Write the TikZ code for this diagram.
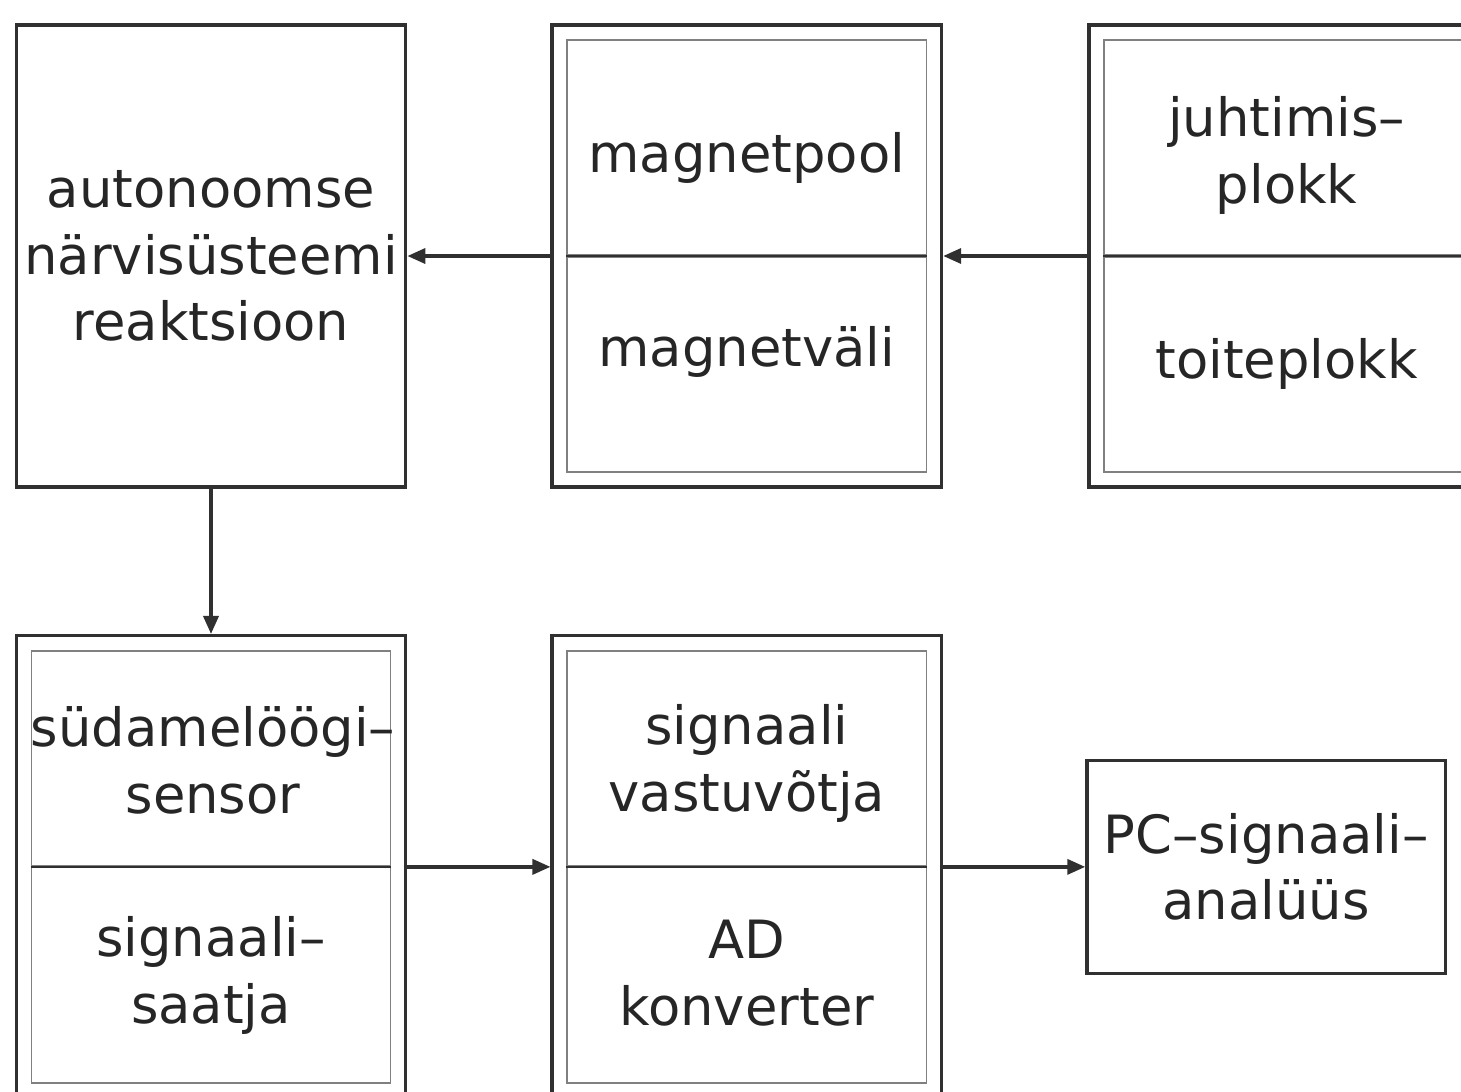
\documentclass[tikz,border=0pt]{standalone}
\usepackage{fontspec}
\setmainfont{DejaVu Sans}
\usepackage{tikz}
\usetikzlibrary{positioning}
\usetikzlibrary{arrows.meta}
\definecolor{linegray}{HTML}{303030}
\definecolor{framegray}{HTML}{808080}

\begin{document}
\begin{tikzpicture}[
		x=0.01cm, y=-0.01cm,
		font=\fontsize{15pt}{19pt}\selectfont,
		box/.style={rectangle, draw=linegray, line width=1pt, minimum width=3.89cm, minimum height=4.62cm, inner sep=0pt, text=black!85, align=center},  % outer frame
		half/.style={rectangle, draw=framegray, line width=0.45pt, minimum width=3.59cm, minimum height=2.15cm, inner sep=0pt},  % inner frame, one half
		caption/.style={inner sep=0pt, text=black!85, align=center},
		divider/.style={draw=linegray, line width=0.6pt},
		arrow/.style={-{Triangle[length=1.8mm, width=1.5mm]}, draw=linegray, line width=1pt}
		]
		\useasboundingbox (0,0) rectangle (1461,1091);
		\clip (0,0) rectangle (1461,1091);
		% top row
		\node[box] (reaction) at (211,256) {autonoomse\\närvisüsteemi\\reaktsioon};
		\node[box, right=1.43cm of reaction] (magnet) {};
		\node[half, anchor=south] (magnetpool) at (magnet.center) {};
		\node[half, anchor=north] (magnetfield) at (magnet.center) {};
		\node[box, minimum width=3.95cm, right=1.44cm of magnet] (control) {};
		\node[half, minimum width=3.65cm, anchor=south] (controlunit) at (control.center) {};
		\node[half, minimum width=3.65cm, anchor=north] (power) at (control.center) {};
		% bottom row
		\node[box, below=1.45cm of reaction] (sensor) {};
		\node[half, anchor=south] (sensorpart) at (sensor.center) {};
		\node[half, anchor=north] (sender) at (sensor.center) {};
		\node[box, right=1.43cm of sensor] (receiver) {};
		\node[half, anchor=south] (rxpart) at (receiver.center) {};
		\node[half, anchor=north] (adc) at (receiver.center) {};
		\node[box, minimum width=3.58cm, minimum height=2.13cm, right=1.42cm of receiver] (pc) {PC–signaali–\\analüüs};
		% texts of the halves
		\node[caption] (magnetpooltext) at ([yshift=-0.1cm]magnetpool.center) {magnetpool};
		\node[caption] (magnetfieldtext) at ([yshift=0.12cm]magnetfield.center) {magnetväli};
		\node[caption] (controlunittext) at ([yshift=-0.08cm]controlunit.center) {juhtimis–\\plokk};
		\node[caption] (powertext) at (power.center) {toiteplokk};
		\node[caption] (sensortext) at ([xshift=0.02cm,yshift=-0.02cm]sensorpart.center) {südamelöögi–\\sensor};
		\node[caption] (sendertext) at (sender.center) {signaali–\\saatja};
		\node[caption] (rxtext) at ([yshift=-0.05cm]rxpart.center) {signaali\\vastuvõtja};
		\node[caption] (adctext) at ([yshift=0.02cm]adc.center) {AD\\konverter};
		% dividers
		\draw[divider] (magnetpool.south west) -- (magnetpool.south east);
		\draw[divider] (controlunit.south west) -- (controlunit.south east);
		\draw[divider] (sensorpart.south west) -- (sensorpart.south east);
		\draw[divider] (rxpart.south west) -- (rxpart.south east);
		% arrows
		\draw[arrow] (magnet) -- (reaction);
		\draw[arrow] (control) -- (magnet);
		\draw[arrow] (reaction) -- (sensor);
		\draw[arrow] (sensor) -- (receiver);
		\draw[arrow] (receiver) -- (pc);
	\end{tikzpicture}
\end{document}
